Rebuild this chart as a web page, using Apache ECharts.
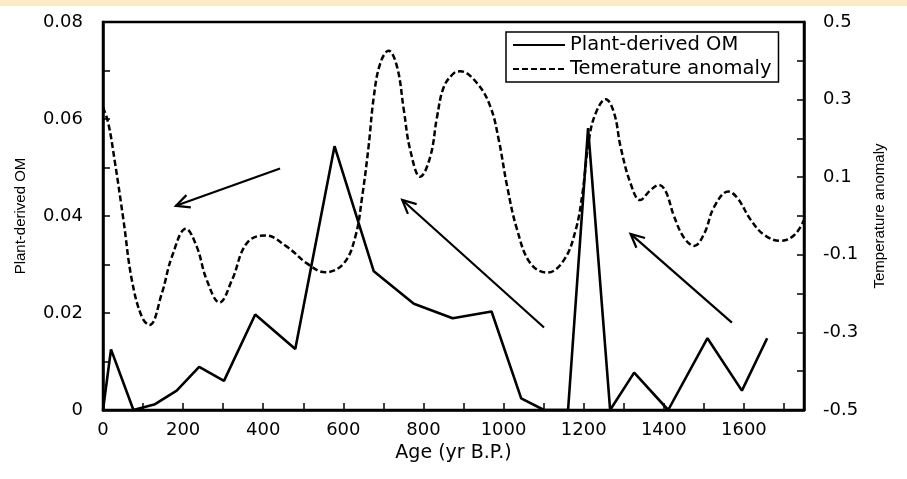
<!DOCTYPE html>
<html>
<head>
<meta charset="utf-8">
<script src="https://cdn.jsdelivr.net/npm/echarts@6/dist/echarts.min.js"></script>
<style>
  html, body { margin: 0; padding: 0; background: #fff; }
  #chart { width: 907px; height: 479px; }
</style>
</head>
<body>
<div id="chart"></div>
<script>
// plant-derived OM (solid, left axis)
const omAge = [0, 20, 76, 130, 184, 240, 302, 380, 480, 578, 676, 776, 873, 970, 1044, 1101, 1161, 1211, 1266, 1326, 1411, 1509, 1595, 1658];
const omVal = [0, 0.0125, 0, 0.0012, 0.004, 0.0089, 0.006, 0.0197, 0.0126, 0.0544, 0.0286, 0.0219, 0.0189, 0.0203, 0.0024, 0, 0, 0.0581, 0, 0.0077, 0, 0.0148, 0.004, 0.0148];

// temperature anomaly (dashed, right axis)
const tAge = [0, 13, 30, 51, 72, 97, 116, 147, 172, 207, 234, 259, 291, 322, 359, 405, 459, 509, 555, 601, 630, 647, 663, 676, 692, 713, 734, 751, 767, 792, 817, 834, 851, 876, 892, 934, 967, 988, 1009, 1034, 1067, 1109, 1151, 1180, 1197, 1213, 1230, 1255, 1276, 1292, 1317, 1341, 1365, 1388, 1405, 1426, 1451, 1476, 1501, 1526, 1561, 1584, 1617, 1651, 1692, 1726, 1750];
const tVal = [0.28, 0.24, 0.137, -0.01, -0.165, -0.26, -0.281, -0.199, -0.105, -0.033, -0.079, -0.165, -0.223, -0.165, -0.07, -0.05, -0.079, -0.122, -0.145, -0.122, -0.053, 0.05, 0.179, 0.307, 0.393, 0.426, 0.385, 0.273, 0.17, 0.101, 0.153, 0.256, 0.333, 0.368, 0.373, 0.342, 0.282, 0.196, 0.076, -0.036, -0.122, -0.146, -0.113, -0.036, 0.059, 0.196, 0.265, 0.301, 0.265, 0.179, 0.084, 0.041, 0.065, 0.08, 0.063, -0.002, -0.057, -0.077, -0.045, 0.024, 0.063, 0.046, -0.01, -0.049, -0.064, -0.049, -0.01];

// annotation arrows, in data units (age, OM): tail -> head
const arrowFromAge = [442, 1101, 1570];
const arrowFromOM = [0.0498, 0.0170, 0.0180];
const arrowToAge = [182, 747, 1317];
const arrowToOM = [0.0421, 0.0433, 0.0363];

const chart = echarts.init(document.getElementById('chart'));

const tickFont = { fontFamily: 'DejaVu Sans', fontSize: 18, color: '#000' };

chart.setOption({
  backgroundColor: '#fff',
  animation: false,
  graphic: [
    { type: 'rect', left: 0, top: 0, shape: { width: 907, height: 6 }, style: { fill: '#fdebc8' } }
  ],
  grid: { left: 103, right: 103, top: 22, bottom: 69, show: true, borderColor: '#000', borderWidth: 2.5 },
  legend: {
    data: ['Plant-derived OM', 'Temerature anomaly'],
    orient: 'vertical',
    left: 506, top: 32,
    itemWidth: 52, itemHeight: 14, itemGap: 4,
    padding: [3, 7, 3, 6],
    borderColor: '#000', borderWidth: 1.5,
    itemStyle: { opacity: 0 },
    textStyle: { fontFamily: 'DejaVu Sans', fontSize: 19.5, color: '#000' }
  },
  xAxis: {
    type: 'value', min: 0, max: 1750, interval: 100,
    name: 'Age (yr B.P.)', nameLocation: 'middle', nameGap: 34,
    nameTextStyle: { fontFamily: 'DejaVu Sans', fontSize: 19, color: '#000' },
    axisLine: { lineStyle: { color: '#000', width: 2.5 } },
    axisTick: { inside: true, length: 7, lineStyle: { color: '#000', width: 1.5 } },
    axisLabel: Object.assign({ margin: 11, formatter: v => (v % 200 === 0 && v <= 1600) ? String(v) : '' }, tickFont),
    splitLine: { show: false }
  },
  yAxis: [
    {
      type: 'value', min: 0, max: 0.08, interval: 0.01,
      name: 'Plant-derived OM', nameLocation: 'middle', nameRotate: 90, nameGap: 75,
      nameTextStyle: { fontFamily: 'Liberation Sans', fontSize: 15, color: '#000' },
      axisLine: { show: true, lineStyle: { color: '#000', width: 2.5 } },
      axisTick: { inside: true, length: 7, lineStyle: { color: '#000', width: 1.5 } },
      axisLabel: Object.assign({
        margin: 20,
        formatter: v => { const n = Math.round(v * 100); return n % 2 ? '' : (n === 0 ? '0' : (n / 100).toFixed(2)); }
      }, tickFont),
      splitLine: { show: false }
    },
    {
      type: 'value', min: -0.5, max: 0.5, interval: 0.1, position: 'right',
      name: 'Temperature anomaly', nameLocation: 'middle', nameRotate: 90, nameGap: 68,
      nameTextStyle: { fontFamily: 'Liberation Sans', fontSize: 15, color: '#000' },
      axisLine: { show: true, lineStyle: { color: '#000', width: 2.5 } },
      axisTick: { inside: true, length: 7, lineStyle: { color: '#000', width: 1.5 } },
      axisLabel: Object.assign({
        margin: 19,
        formatter: v => { const n = Math.round(v * 10); return Math.abs(n) % 2 === 1 ? (n / 10).toFixed(1) : ''; }
      }, tickFont),
      splitLine: { show: false }
    }
  ],
  series: [
    {
      name: 'Plant-derived OM',
      type: 'line',
      yAxisIndex: 0,
      data: omAge.map((a, i) => [a, omVal[i]]),
      symbol: 'circle', symbolSize: 0, showSymbol: false,
      lineStyle: { color: '#000', width: 2.6 },
      itemStyle: { color: '#000' },
      z: 3
    },
    {
      name: 'Temerature anomaly',
      type: 'line',
      yAxisIndex: 1,
      data: tAge.map((a, i) => [a, tVal[i]]),
      symbol: 'circle', symbolSize: 0, showSymbol: false,
      smooth: 0.4,
      lineStyle: { color: '#000', width: 2.5, type: [6, 3] },
      itemStyle: { color: '#000' },
      z: 2
    },
    {
      name: 'arrows',
      type: 'custom',
      yAxisIndex: 0,
      encode: { x: [0, 2], y: [1, 3] },
      data: arrowFromAge.map((a, i) => [a, arrowFromOM[i], arrowToAge[i], arrowToOM[i]]),
      renderItem: function (params, api) {
        const p1 = api.coord([api.value(0), api.value(1)]);
        const p2 = api.coord([api.value(2), api.value(3)]);
        const ang = Math.atan2(p2[1] - p1[1], p2[0] - p1[0]);
        const len = 15, spread = 0.45;
        const a1 = [p2[0] - len * Math.cos(ang - spread), p2[1] - len * Math.sin(ang - spread)];
        const a2 = [p2[0] - len * Math.cos(ang + spread), p2[1] - len * Math.sin(ang + spread)];
        return {
          type: 'group',
          children: [
            { type: 'line', shape: { x1: p1[0], y1: p1[1], x2: p2[0], y2: p2[1] }, style: { stroke: '#000', lineWidth: 2.2 } },
            { type: 'polyline', shape: { points: [a1, p2, a2] }, style: { stroke: '#000', lineWidth: 2.2, fill: null } }
          ]
        };
      },
      z: 4
    }
  ]
});
</script>
</body>
</html>
